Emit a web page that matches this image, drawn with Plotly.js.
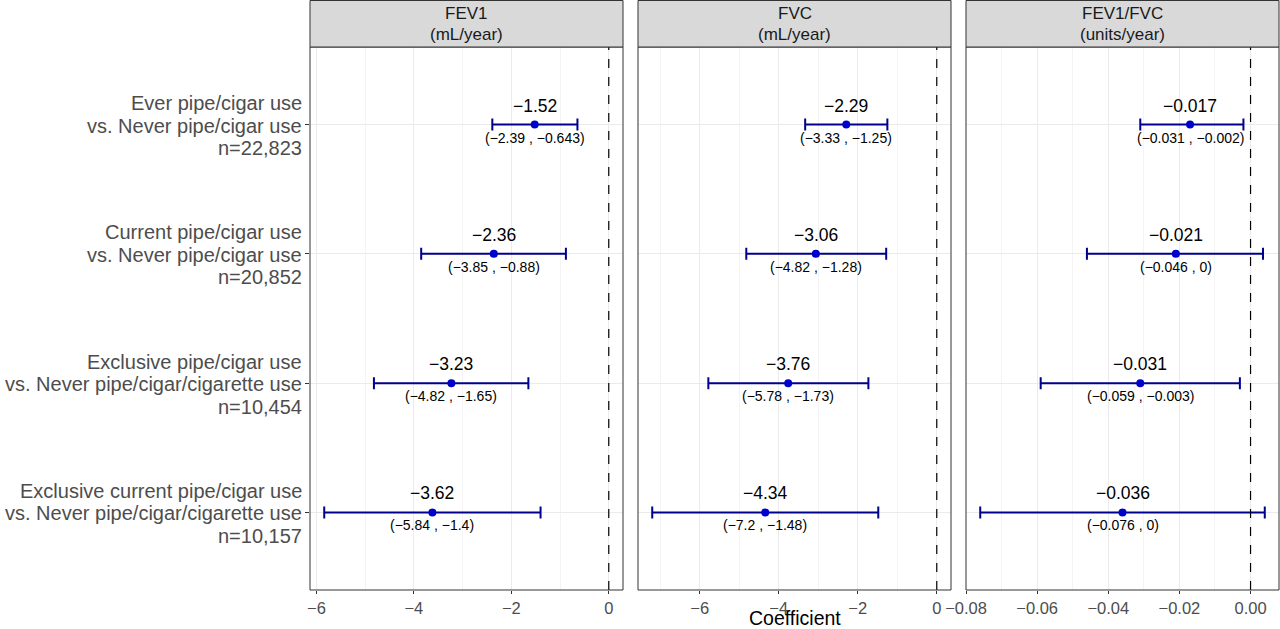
<!DOCTYPE html>
<html>
<head>
<meta charset="utf-8">
<script src="https://cdn.plot.ly/plotly-3.0.1.min.js"></script>
<style>html,body{margin:0;padding:0;background:#fff;}#chart{width:1280px;height:629px;}</style>
</head>
<body>
<div id="chart"></div>
<script>
// ---- data ----
const categories = [
  "Ever pipe/cigar use<br>vs. Never pipe/cigar use<br>n=22,823",
  "Current pipe/cigar use<br>vs. Never pipe/cigar use<br>n=20,852",
  "Exclusive pipe/cigar use<br>vs. Never pipe/cigar/cigarette use<br>n=10,454",
  "Exclusive current pipe/cigar use<br>vs. Never pipe/cigar/cigarette use<br>n=10,157"
];
const panelTitles = ["FEV1<br>(mL/year)", "FVC<br>(mL/year)", "FEV1/FVC<br>(units/year)"];

const fev1Est = [-1.52, -2.36, -3.23, -3.62];
const fev1Lo  = [-2.39, -3.85, -4.82, -5.84];
const fev1Hi  = [-0.643, -0.88, -1.65, -1.4];
const fev1EstLabel = ["−1.52", "−2.36", "−3.23", "−3.62"];
const fev1CiLabel  = ["(−2.39 , −0.643)", "(−3.85 , −0.88)", "(−4.82 , −1.65)", "(−5.84 , −1.4)"];

const fvcEst = [-2.29, -3.06, -3.76, -4.34];
const fvcLo  = [-3.33, -4.82, -5.78, -7.2];
const fvcHi  = [-1.25, -1.28, -1.73, -1.48];
const fvcEstLabel = ["−2.29", "−3.06", "−3.76", "−4.34"];
const fvcCiLabel  = ["(−3.33 , −1.25)", "(−4.82 , −1.28)", "(−5.78 , −1.73)", "(−7.2 , −1.48)"];

const ratioEst = [-0.017, -0.021, -0.031, -0.036];
const ratioLo  = [-0.031, -0.046, -0.059, -0.076];
const ratioHi  = [-0.002, 0.0035, -0.003, 0.004];
const ratioEstLabel = ["−0.017", "−0.021", "−0.031", "−0.036"];
const ratioCiLabel  = ["(−0.031 , −0.002)", "(−0.046 , 0)", "(−0.059 , −0.003)", "(−0.076 , 0)"];

const panels = [
  {est: fev1Est, lo: fev1Lo, hi: fev1Hi, estL: fev1EstLabel, ciL: fev1CiLabel},
  {est: fvcEst, lo: fvcLo, hi: fvcHi, estL: fvcEstLabel, ciL: fvcCiLabel},
  {est: ratioEst, lo: ratioLo, hi: ratioHi, estL: ratioEstLabel, ciL: ratioCiLabel}
];

// ---- layout geometry ----
const W = 1280, H = 629;
const panelPx = [[310, 623], [638, 951], [966, 1279]];
const yTop = 1 - 47 / H, yBot = 1 - 590 / H;
const FONT = "Liberation Sans, Arial, Helvetica, sans-serif";
const lineColor = "#00008B", dotColor = "#0000CD";

function expandRange(lo, hi) {
  const mn = Math.min(0, ...lo), mx = Math.max(0, ...hi);
  const pad = (mx - mn) * 0.05;
  return [mn - pad, mx + pad];
}

const traces = [];
const shapes = [];
const annotations = [];
const layout = {
  width: W, height: H,
  margin: {l: 0, r: 0, t: 0, b: 0},
  paper_bgcolor: "#fff", plot_bgcolor: "#fff",
  showlegend: false,
  font: {family: FONT, color: "#4D4D4D"},
  yaxis: {
    type: "category", categoryarray: categories, categoryorder: "array",
    range: [3.6, -0.6], domain: [yBot, yTop], anchor: "x",
    showgrid: true, gridcolor: "#EBEBEB", gridwidth: 1,
    ticks: "outside", ticklen: 4, tickcolor: "#333333", tickwidth: 1,
    showticklabels: false,
    zeroline: false, showline: false, automargin: false, fixedrange: true
  }
};

// y-axis category labels (one text per line, tight ggplot-like line height)
categories.forEach((c) => {
  const lines = c.split("<br>");
  lines.forEach((ln, j) => {
    annotations.push({xref: "paper", yref: "y", x: 304 / W, y: c, text: ln,
      showarrow: false, xanchor: "right", yanchor: "middle",
      yshift: (1 - j) * 22.5 - 1,
      font: {family: FONT, size: 20, color: "#4D4D4D"}});
  });
});

const dticks = [2, 2, 0.02];
const minors = [1, 1, 0.01];
const formats = ["d", "d", ".2f"];

panels.forEach((p, i) => {
  const ax = i === 0 ? "x" : "x" + (i + 1);
  const axKey = i === 0 ? "xaxis" : "xaxis" + (i + 1);
  layout[axKey] = {
    domain: [panelPx[i][0] / W, panelPx[i][1] / W],
    anchor: "y",
    range: expandRange(p.lo, p.hi),
    dtick: dticks[i], tick0: 0, tickformat: formats[i],
    showgrid: true, gridcolor: "#EBEBEB", gridwidth: 1,
    minor: {dtick: minors[i], tick0: 0, showgrid: true, gridcolor: "#F4F4F4", gridwidth: 1},
    ticks: "outside", ticklen: 3, tickcolor: "#333333", tickwidth: 1,
    tickfont: {family: FONT, size: 16.5, color: "#4D4D4D"},
    zeroline: false, showline: false, automargin: false, fixedrange: true
  };
  traces.push({
    type: "scatter", mode: "markers", xaxis: ax, yaxis: "y",
    x: p.est, y: categories,
    marker: {color: dotColor, size: 8},
    error_x: {
      type: "data", symmetric: false,
      array: p.hi.map((h, k) => h - p.est[k]),
      arrayminus: p.est.map((e, k) => e - p.lo[k]),
      color: lineColor, thickness: 2, width: 6
    },
    hoverinfo: "skip"
  });
  // zero reference line
  shapes.push({type: "line", xref: ax, yref: "y domain", x0: 0, x1: 0, y0: 0, y1: 1,
    line: {color: "#000", width: 1.2, dash: "dash"}, layer: "above"});
  // panel border
  shapes.push({type: "rect", xref: ax + " domain", yref: "y domain", x0: 0, x1: 1, y0: 0, y1: 1,
    line: {color: "#333333", width: 1}, fillcolor: "rgba(0,0,0,0)", layer: "above"});
  // strip
  shapes.push({type: "rect", xref: "paper", yref: "paper",
    x0: panelPx[i][0] / W, x1: panelPx[i][1] / W, y0: yTop, y1: 1 - 0.5 / H,
    line: {color: "#333333", width: 1}, fillcolor: "#D9D9D9", layer: "above"});
  const tl = panelTitles[i].split("<br>");
  const stripY = [13.5, 34.5];
  tl.forEach((t, j) => {
    annotations.push({xref: "paper", yref: "paper",
      x: (panelPx[i][0] + panelPx[i][1]) / 2 / W, y: 1 - stripY[j] / H,
      text: t, showarrow: false, xanchor: "center", yanchor: "middle",
      font: {family: FONT, size: 17, color: "#1A1A1A"}});
  });
  p.est.forEach((e, k) => {
    annotations.push({xref: ax, yref: "y", x: e, y: categories[k], text: p.estL[k],
      showarrow: false, xanchor: "center", yanchor: "middle", yshift: 19,
      font: {family: FONT, size: 17.5, color: "#000"}});
    annotations.push({xref: ax, yref: "y", x: e, y: categories[k], text: p.ciL[k],
      showarrow: false, xanchor: "center", yanchor: "middle", yshift: -13,
      font: {family: FONT, size: 14, color: "#000"}});
  });
});

annotations.push({xref: "paper", yref: "paper", x: (310 + 1279) / 2 / W, y: 0,
  text: "Coefficient", showarrow: false, xanchor: "center", yanchor: "bottom",
  borderpad: 0, yshift: -1,
  font: {family: FONT, size: 19.5, color: "#000"}});

layout.shapes = shapes;
layout.annotations = annotations;

Plotly.newPlot("chart", traces, layout, {displayModeBar: false, staticPlot: true});
</script>
</body>
</html>
